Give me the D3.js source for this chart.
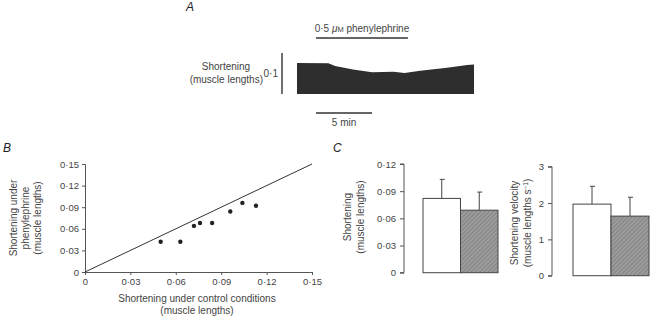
<!DOCTYPE html>
<html lang="en">
<head>
<meta charset="UTF-8">
<title>Phenylephrine shortening</title>
<script src="https://d3js.org/d3.v7.min.js"></script>
<style>
    body{ margin:0; background:#fff; }
    svg{ display:block; }
    text{ font-family:"Liberation Sans", Arial, sans-serif; fill:#333; }
    .tick text{ font-size:9.5px; fill:#444; }
    .tick line, .domain{ stroke:#555; }
    .lbl{ font-size:10px; fill:#444; }
    .panel{ font-size:12px; font-style:italic; fill:#222; }
</style>
</head>
<body>
<script>
// panel A: trace (time in min, shortening in muscle lengths)
const traceTime = [0, 2.8, 3.4, 5.0, 6.7, 8.6, 9.6, 11.0, 13.4, 15.2, 15.8]
const traceShort = [0.0756, 0.0748, 0.068, 0.060, 0.053, 0.054, 0.051, 0.057, 0.064, 0.071, 0.072]
const drugOn = [1.7, 9.9]

// panel B: control vs phenylephrine
const controlShort = [0.050, 0.063, 0.072, 0.076, 0.084, 0.096, 0.104, 0.113]
const pheShort = [0.042, 0.042, 0.064, 0.068, 0.068, 0.084, 0.096, 0.092]
const bTicks = [0, 0.03, 0.06, 0.09, 0.12, 0.15]

// panel C: means and SD
const groups = ["control", "phenylephrine"]
const shortMean = [0.082, 0.069]
const shortErr = [0.021, 0.020]
const velMean = [1.97, 1.64]
const velErr = [0.49, 0.52]

const fmt = d => d === 0 ? "0" : d3.format(".2f")(d).replace(".", "·")

const svg = d3.select("body").append("svg").attr("width", 650).attr("height", 317)

// hatch pattern for the drug bars
const pat = svg.append("defs").append("pattern")
    .attr("id", "hatch").attr("width", 3).attr("height", 3)
    .attr("patternUnits", "userSpaceOnUse").attr("patternTransform", "rotate(45)")
pat.append("rect").attr("width", 3).attr("height", 3).attr("fill", "#9c9c9c")
pat.append("line").attr("x1", 0).attr("y1", 0).attr("x2", 0).attr("y2", 3)
    .attr("stroke", "#747474").attr("stroke-width", 1.2)

// ---------- A ----------
svg.append("text").attr("class", "panel").attr("x", 186).attr("y", 11).text("A")

const xA = d3.scaleLinear().domain([0, 15.8]).range([297, 474])
const yA = d3.scaleLinear().domain([0, 0.1]).range([94, 53])

const area = d3.area().x((d, i) => xA(traceTime[i])).y0(yA(0)).y1(d => yA(d))
svg.append("path").datum(traceShort).attr("d", area).attr("fill", "#2e2e2e")

// drug bar
svg.append("line").attr("x1", xA(drugOn[0])).attr("x2", xA(drugOn[1]))
    .attr("y1", 38).attr("y2", 38).attr("stroke", "#333").attr("stroke-width", 1.6)
svg.append("text").attr("class", "lbl").attr("x", (xA(drugOn[0]) + xA(drugOn[1])) / 2).attr("y", 32)
    .attr("text-anchor", "middle")
    .html('0·5 <tspan font-style="italic">μ</tspan><tspan font-size="7.5px">M</tspan> phenylephrine')

// vertical scale bar 0.1
svg.append("line").attr("x1", 282).attr("x2", 282).attr("y1", yA(0)).attr("y2", yA(0.1))
    .attr("stroke", "#333").attr("stroke-width", 1.4)
svg.append("text").attr("class", "lbl").attr("x", 278).attr("y", yA(0.05) + 3)
    .attr("text-anchor", "end").text("0·1")
svg.append("text").attr("class", "lbl").attr("x", 226).attr("y", 70)
    .attr("text-anchor", "middle").text("Shortening")
svg.append("text").attr("class", "lbl").attr("x", 263).attr("y", 83)
    .attr("text-anchor", "end").text("(muscle lengths)")

// time bar 5 min
svg.append("line").attr("x1", xA(drugOn[0])).attr("x2", xA(drugOn[0] + 5))
    .attr("y1", 113).attr("y2", 113).attr("stroke", "#333").attr("stroke-width", 1.4)
svg.append("text").attr("class", "lbl").attr("x", xA(drugOn[0] + 2.5)).attr("y", 126)
    .attr("text-anchor", "middle").text("5 min")

// ---------- B ----------
svg.append("text").attr("class", "panel").attr("x", 3).attr("y", 152).text("B")

const xB = d3.scaleLinear().domain([0, 0.15]).range([85, 312])
const yB = d3.scaleLinear().domain([0, 0.15]).range([272, 164])

svg.append("g").attr("transform", "translate(0,272)")
    .call(d3.axisBottom(xB).tickValues(bTicks).tickFormat(fmt).tickSize(3).tickPadding(3))
svg.append("g").attr("transform", "translate(85,0)")
    .call(d3.axisLeft(yB).tickValues(bTicks).tickFormat(fmt).tickSize(3).tickPadding(3))

svg.append("line").attr("x1", xB(0)).attr("y1", yB(0)).attr("x2", xB(0.15)).attr("y2", yB(0.15))
    .attr("stroke", "#333").attr("stroke-width", 1)

svg.append("g").selectAll("circle").data(controlShort).enter().append("circle")
    .attr("cx", d => xB(d)).attr("cy", (d, i) => yB(pheShort[i])).attr("r", 2.2).attr("fill", "#222")

svg.append("text").attr("class", "lbl").attr("x", 197).attr("y", 302)
    .attr("text-anchor", "middle").text("Shortening under control conditions")
svg.append("text").attr("class", "lbl").attr("x", 197).attr("y", 314)
    .attr("text-anchor", "middle").text("(muscle lengths)")
;["Shortening under", "phenylephrine", "(muscle lengths)"].forEach((t, i) => {
    svg.append("text").attr("class", "lbl").attr("text-anchor", "middle")
        .attr("transform", `translate(${17 + i * 12},218) rotate(-90)`).text(t)
})

// ---------- C ----------
svg.append("text").attr("class", "panel").attr("x", 333).attr("y", 152).text("C")

function barChart(axisX, y0, y1, domainMax, ticks, tickFmt, means, errs, xRange, labels, labelX, labelY) {
    const y = d3.scaleLinear().domain([0, domainMax]).range([y0, y1])
    const x = d3.scaleBand().domain(groups).range(xRange).padding(0)
    svg.append("g").attr("transform", `translate(${axisX},0)`)
        .call(d3.axisLeft(y).tickValues(ticks).tickFormat(tickFmt).tickSize(4).tickPadding(4))
        .select(".domain").attr("d", `M-4,${y0}H0V${y1}H-4`)

    const g = svg.append("g")
    // error bars first so bar tops cover stem
    g.selectAll(".err").data(groups).enter().append("path")
        .attr("d", (d, i) => {
            const cx = x(d) + x.bandwidth() / 2
            return `M${cx},${y(means[i])}V${y(means[i] + errs[i])}M${cx - 2},${y(means[i] + errs[i])}H${cx + 3}`
        })
        .attr("stroke", "#444").attr("stroke-width", 1).attr("fill", "none")
    g.selectAll(".bar").data(groups).enter().append("rect")
        .attr("x", d => x(d)).attr("width", x.bandwidth())
        .attr("y", (d, i) => y(means[i])).attr("height", (d, i) => y0 - y(means[i]))
        .attr("fill", (d, i) => i === 0 ? "#fff" : "url(#hatch)")
        .attr("stroke", "#444").attr("stroke-width", 1)

    labels.forEach((t, i) => {
        svg.append("text").attr("class", "lbl").attr("text-anchor", "middle")
            .attr("transform", `translate(${labelX + i * 13},${labelY}) rotate(-90)`).html(t)
    })
}

barChart(404, 272.7, 164, 0.12, [0, 0.03, 0.06, 0.09, 0.12], fmt,
    shortMean, shortErr, [423, 498], ["Shortening", "(muscle lengths)"], 351, 217)
barChart(552, 275.7, 166.7, 3, [0, 1, 2, 3], d3.format("d"),
    velMean, velErr, [573, 649], ["Shortening velocity", '(muscle lengths s<tspan dy="-3" font-size="6.5px">−1</tspan><tspan dy="3">)</tspan>'], 518, 223)
</script>
</body>
</html>
